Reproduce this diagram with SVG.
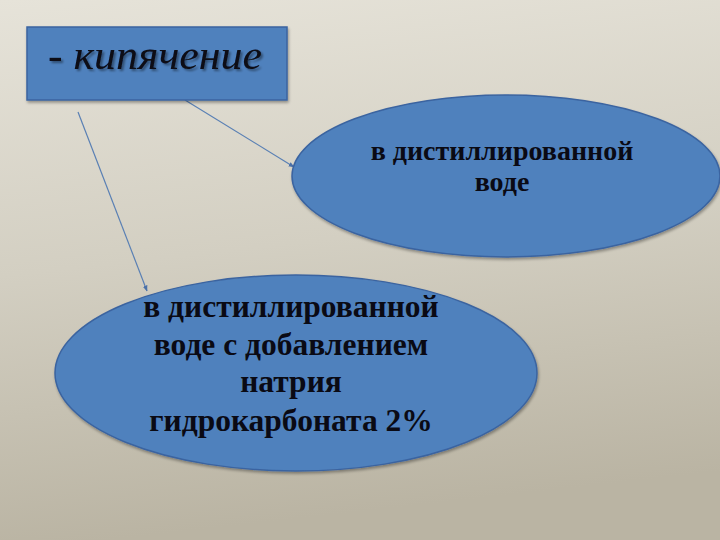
<svg xmlns="http://www.w3.org/2000/svg" width="720" height="540" viewBox="0 0 720 540">
<defs>
<linearGradient id="bg" x1="0" y1="0" x2="0.15" y2="1">
<stop offset="0" stop-color="#e6e3d9"/>
<stop offset="0.5" stop-color="#d3cfc2"/>
<stop offset="1" stop-color="#bab4a3"/>
</linearGradient>
<marker id="arr" viewBox="0 0 10 10" refX="9" refY="5" markerWidth="5" markerHeight="5" orient="auto">
<path d="M0,1 L10,5 L0,9 z" fill="#4a70a8"/>
</marker>
<filter id="sh" x="-10%" y="-10%" width="120%" height="130%">
<feGaussianBlur in="SourceAlpha" stdDeviation="1.5"/>
<feOffset dx="1" dy="2" result="b"/>
<feComponentTransfer><feFuncA type="linear" slope="0.35"/></feComponentTransfer>
<feMerge><feMergeNode/><feMergeNode in="SourceGraphic"/></feMerge>
</filter>
<filter id="tsh" x="-5%" y="-20%" width="110%" height="140%">
<feGaussianBlur in="SourceAlpha" stdDeviation="1"/>
<feOffset dx="1.5" dy="1.5"/>
<feComponentTransfer><feFuncA type="linear" slope="0.4"/></feComponentTransfer>
<feMerge><feMergeNode/><feMergeNode in="SourceGraphic"/></feMerge>
</filter>
</defs>
<style>
.node{fill:#4f81bd;stroke:#3b64a0;stroke-width:1.5}
.lbl{font-family:"Liberation Serif","Times New Roman",serif;font-weight:bold;fill:#0a0a14;text-anchor:middle}
.conn{stroke:#5a80b4;stroke-width:1.2;fill:none;marker-end:url(#arr)}
</style>
<rect width="720" height="540" fill="url(#bg)"/>
<g id="connectors">
<line class="conn" x1="185" y1="100" x2="294" y2="167"/>
<line class="conn" x1="78" y1="112" x2="147" y2="291"/>
</g>
<g id="node-boiling">
<rect class="node" x="27" y="27" width="260" height="73" filter="url(#sh)"/>
<text x="48" y="69" font-family="Liberation Serif,'Times New Roman',serif" font-style="italic" font-size="43" fill="#0a0a14" textLength="214" lengthAdjust="spacingAndGlyphs" filter="url(#tsh)">- кипячение</text>
</g>
<g id="node-water">
<ellipse class="node" cx="506" cy="176" rx="214" ry="81" filter="url(#sh)"/>
<text class="lbl" font-size="28"><tspan x="502" y="160">в дистиллированной</tspan><tspan x="502" y="191">воде</tspan></text>
</g>
<g id="node-bicarbonate">
<ellipse class="node" cx="296" cy="373" rx="241" ry="98" filter="url(#sh)"/>
<text class="lbl" font-size="31.5"><tspan x="291" y="317">в дистиллированной</tspan><tspan x="291" y="355">воде с добавлением</tspan><tspan x="291" y="392">натрия</tspan><tspan x="291" y="431">гидрокарбоната 2%</tspan></text>
</g>
</svg>
